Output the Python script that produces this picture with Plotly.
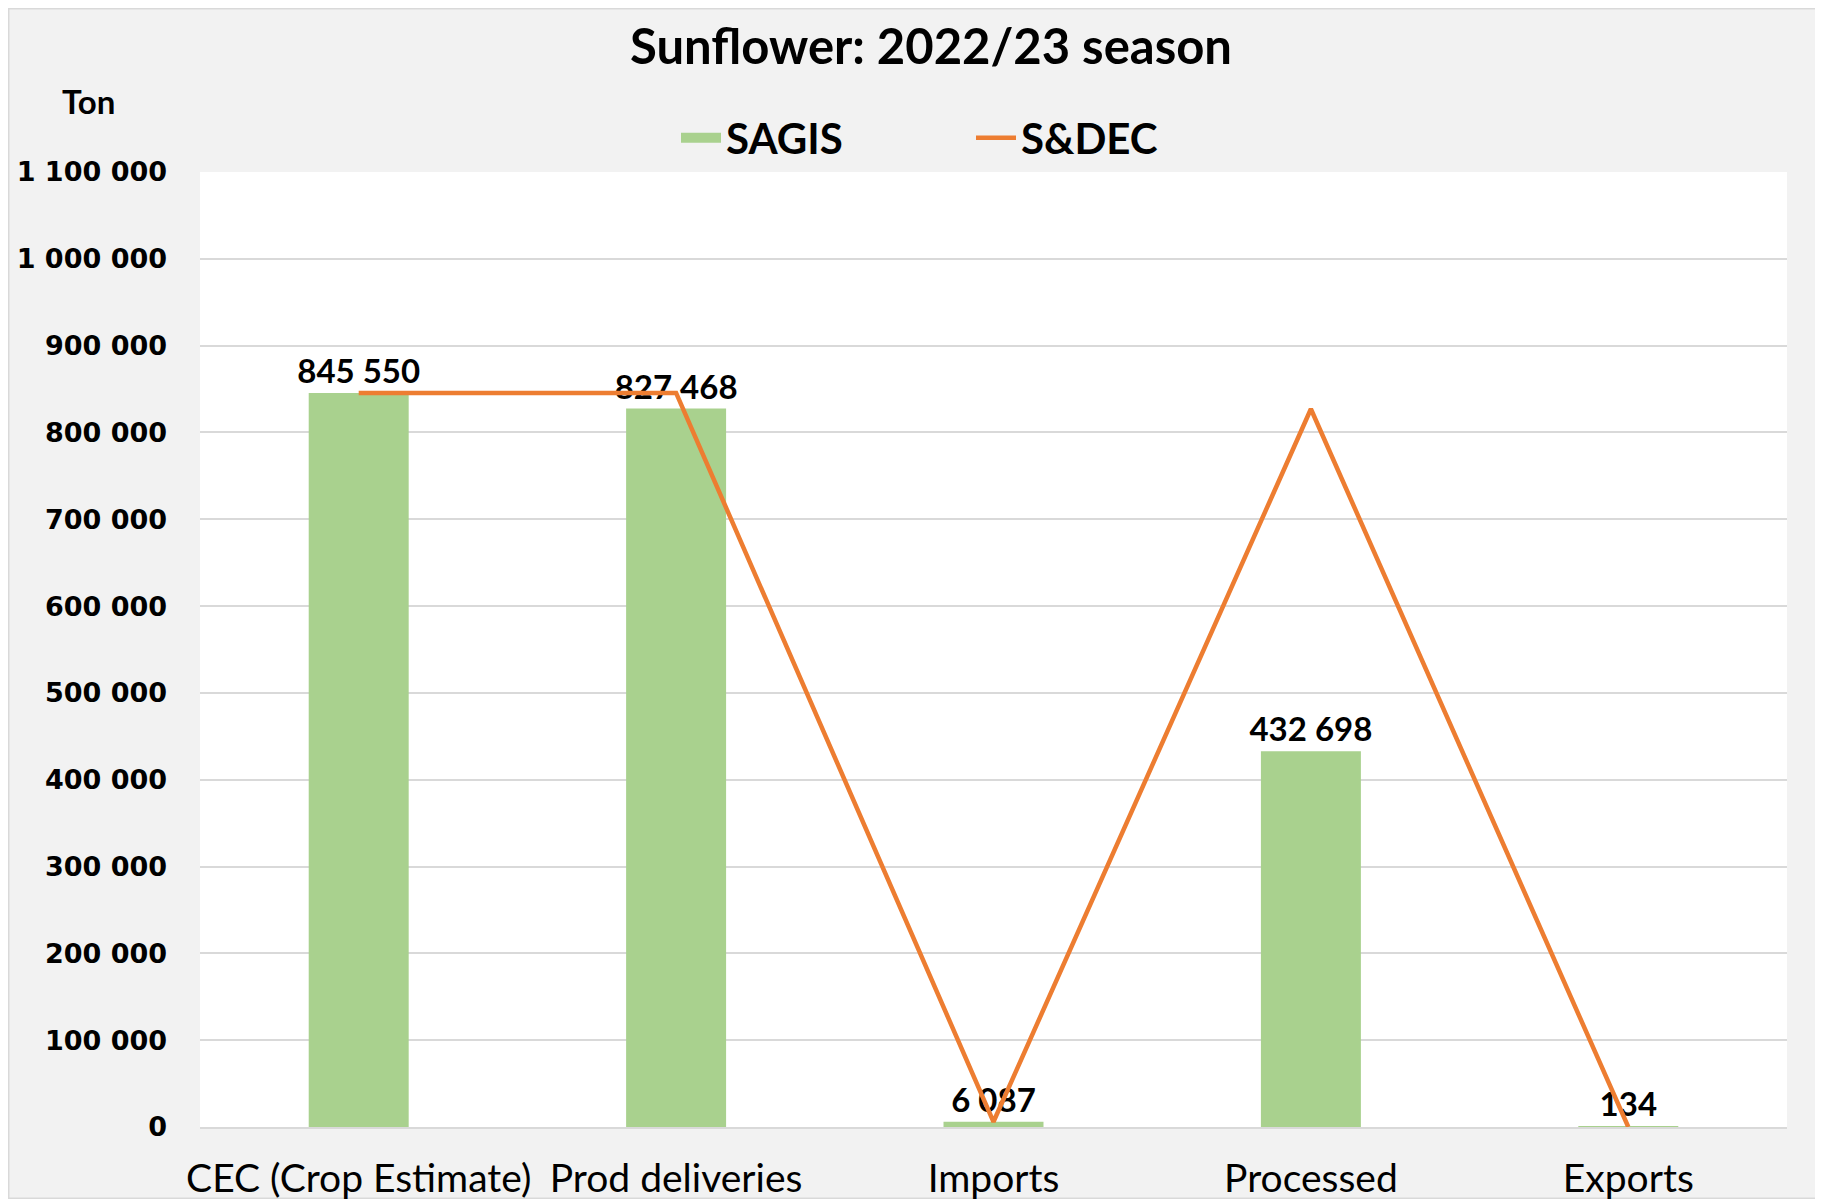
import plotly.graph_objects as go

categories = ["CEC (Crop Estimate)", "Prod deliveries", "Imports", "Processed", "Exports"]
sagis = [845550, 827468, 6087, 432698, 134]
sdec = [845550, 845550, 6000, 827000, 0]
y_ticks = [0, 100000, 200000, 300000, 400000, 500000, 600000, 700000, 800000, 900000, 1000000, 1100000]

# figure is placed by the page at (8, 8)
W, H = 1815, 1191
ml, mr, mt, mb = 192, 36, 164, 72
pw, ph = W - ml - mr, H - mt - mb

GREEN = "#a9d18e"
ORANGE = "#ed7d31"

fig = go.Figure()
fig.add_trace(go.Bar(
    x=categories, y=sagis, name="SAGIS", showlegend=False,
    marker=dict(color=GREEN, line=dict(width=0)),
    texttemplate="%{y:,d}", textposition="outside", constraintext="none",
    textfont=dict(family="Lato", size=33, color="#000000", weight="bold"),
    cliponaxis=False,
))
# legend proxy for the bar series (wide filled key)
fig.add_trace(go.Scatter(
    x=[None], y=[None], name="SAGIS", mode="lines",
    line=dict(color=GREEN, width=24),
))
fig.add_trace(go.Scatter(
    x=categories, y=sdec, name="S&DEC", mode="lines",
    line=dict(color=ORANGE, width=4.5),
    cliponaxis=False,
))

fig.update_layout(
    width=W, height=H,
    margin=dict(l=ml, r=mr, t=mt, b=mb),
    paper_bgcolor="#f2f2f2", plot_bgcolor="#ffffff",
    separators=". ",
    bargap=0.685,
    title=dict(text="<b>Sunflower: 2022/23 season</b>", x=923 / W, xanchor="center",
               y=1 - 39 / H, yanchor="middle",
               font=dict(family="Lato", size=49, color="#000000")),
    legend=dict(orientation="h", x=668 / W, xref="container", xanchor="left",
                y=1 - 96 / H, yref="container", yanchor="top",
                font=dict(family="Lato", size=42, color="#000000", weight="bold"),
                bgcolor="rgba(0,0,0,0)", itemwidth=40, traceorder="normal",
                entrywidth=240, itemsizing="trace"),
    showlegend=True,
    xaxis=dict(
        type="category", showgrid=False, showline=True, linecolor="#d9d9d9", linewidth=2,
        ticks="", tickfont=dict(family="Lato", size=39, color="#000000"),
        ticklabelstandoff=16, automargin=False,
    ),
    yaxis=dict(
        range=[0, 1100000], tickvals=y_ticks, tickformat=",d",
        showgrid=True, gridcolor="#d9d9d9", gridwidth=1.5, zeroline=False,
        showline=False, ticks="", automargin=False,
        tickfont=dict(family="DejaVu Sans", size=27, color="#000000", weight="bold"),
        ticklabelstandoff=32,
    ),
    annotations=[dict(text="<b>Ton</b>", x=(80 - ml) / pw, y=(H - mb - 93) / ph,
                      xref="paper", yref="paper",
                      xanchor="center", yanchor="middle", showarrow=False,
                      font=dict(family="Lato", size=33, color="#000000"))],
)
# outer chart border
fig.add_shape(type="rect", xref="paper", yref="paper",
              x0=-ml / pw, x1=(W - ml) / pw,
              y0=-mb / ph, y1=(H - mb) / ph,
              line=dict(color="#d9d9d9", width=3), fillcolor="rgba(0,0,0,0)", layer="below")

fig.write_html("out.html")
